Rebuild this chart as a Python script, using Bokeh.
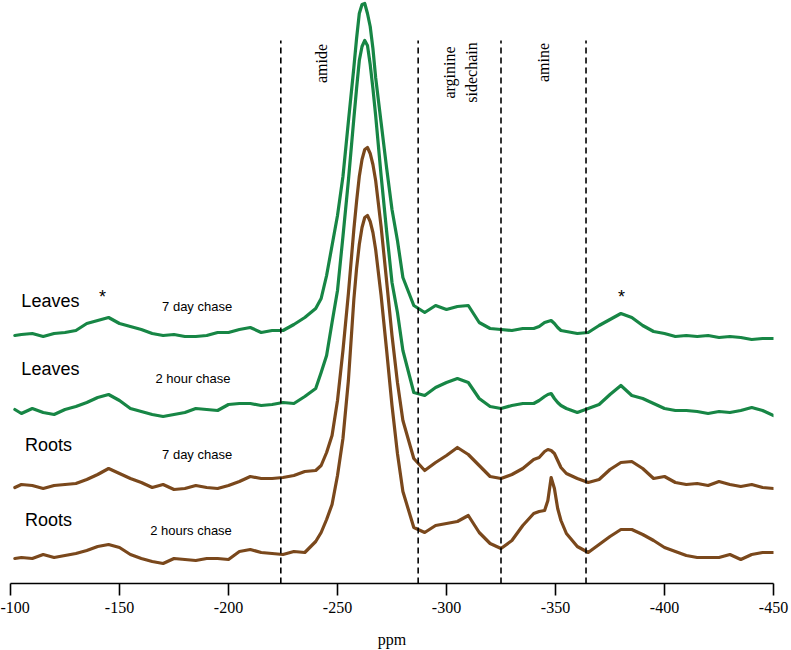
import math
from bokeh.plotting import figure
from bokeh.models import Range1d, FixedTicker
from bokeh.core.properties import value
from bokeh.embed import file_html
from bokeh.resources import INLINE

# ---------------- data ----------------
ppm = [-102, -105, -110, -115, -120, -125, -130, -135, -140, -145,
       -150, -155, -160, -165, -170, -175, -180, -185, -190, -195,
       -200, -205, -210, -215, -220, -225, -230, -235, -240,
       -242.5, -245, -247.5, -250, -252.5, -255, -257.5, -258.75, -260, -261.25,
       -262.5, -263.75, -265, -266.25, -267.5, -270, -272.5, -275, -277.5, -280,
       -285, -290, -295, -300, -305, -310, -315, -320, -325, -330, -335, -340,
       -342.5, -345, -346.5, -348, -349.5, -351, -352.5,
       -355, -360, -365, -370, -375, -380, -385, -390, -395, -400,
       -405, -410, -415, -420, -425, -430, -435, -440, -445, -450]

leaves_7day = [0, 1, 2, -1, 2, 3, 5, 12, 15, 18,
               12, 9, 6, 2, 0, 1, -1, -1, 0, 3,
               3, 6, 8, 3, 5, 5, 11, 18, 27,
               37, 60, 90, 120, 159, 214, 268, 297, 322, 331,
               332, 322, 309, 287, 258, 213, 168, 126, 95, 58,
               30, 23, 30, 26, 29, 30, 13, 7, 6, 5, 7, 7,
               9, 13, 14, 15, 12, 8, 5,
               4, 2, 3, 10, 16, 22, 18, 10, 4, 2, -1, 0, -1, 0, -2, -1, -2, -4, -3, -3]

leaves_2hour = [1, -3, 2, -2, -4, 1, 4, 8, 13, 16,
                10, 2, -1, -4, -6, -4, -2, 2, 1, 0,
                6, 7, 7, 5, 6, 8, 7, 14, 22,
                38, 55, 88, 120, 174, 230, 292, 322, 350, 364,
                370, 365, 346, 322, 295, 235, 180, 128, 98, 60,
                18, 15, 23, 28, 32, 28, 12, 4, 2, 5, 7, 7,
                10, 14, 16, 17, 12, 8, 5,
                2, -2, 2, 6, 16, 25, 15, 12, 7, 2, 0, 0, -1, -3, -1, -2, 0, 3, 0, -5]

roots_7day = [-2, 1, 0, -3, 0, 1, 2, 6, 11, 17,
              12, 7, 3, -2, 1, -4, -3, 0, -2, -3,
              0, 4, 9, 7, 7, 8, 10, 14, 15,
              20, 33, 50, 85, 135, 192, 256, 284, 309, 326,
              336, 338, 332, 321, 305, 259, 205, 150, 103, 65,
              27, 15, 23, 30, 38, 31, 20, 9, 7, 11, 17, 26,
              28, 34, 36, 35, 32, 25, 18,
              12, 7, 3, 6, 16, 23, 24, 17, 7, 9, 3, 1, 2, 0, 4, 1, -1, 1, -2, -3]

roots_2hours = [-2, -1, -2, 2, -1, 1, 3, 6, 10, 12,
                9, 2, -2, -5, -7, -2, -3, -4, -2, -2,
                -3, 5, 7, 4, 3, 2, 5, 4, 15,
                24, 37, 52, 81, 118, 176, 257, 288, 312, 329,
                339, 341, 335, 324, 307, 261, 207, 151, 103, 65,
                29, 24, 31, 33, 35, 41, 24, 13, 8, 16, 31, 43,
                45, 46, 56, 79, 68, 48, 36,
                23, 10, 4, 12, 20, 27, 27, 22, 16, 9, 5, 1, -1, -1, -1, 2, -3, 2, 4, 4]

series = [leaves_7day, leaves_2hour, roots_7day, roots_2hours]
tissue_labels = ["Leaves", "Leaves", "Roots", "Roots"]
chase_labels = ["7 day chase", "2 hour chase", "7 day chase", "2 hours chase"]
stack_offsets = [248, 173, 98, 27]
series_colors = ["#178645", "#178645", "#7a481c", "#7a481c"]

region_bounds = [-224, -287, -325, -364]
region_labels = ["amide", "arginine\nsidechain", "amine"]

x_ticks = [-100, -150, -200, -250, -300, -350, -400, -450]
x_tick_labels = ["-100", "-150", "-200", "-250", "-300", "-350", "-400", "-450"]

for s in series:
    assert len(s) == len(ppm)

# ---------------- figure ----------------
p = figure(frame_width=763, frame_height=583,
           x_range=Range1d(-100, -450), y_range=Range1d(0, 583),
           output_backend="svg", toolbar_location=None, y_axis_location=None,
           min_border_left=10, min_border_right=16, min_border_top=0, min_border_bottom=0)
p.outline_line_color = None
p.xgrid.visible = False
p.ygrid.visible = False
p.background_fill_color = "white"
p.border_fill_color = "white"

for vals, off, col in zip(series, stack_offsets, series_colors):
    p.line(ppm, [off + v for v in vals], line_color=col, line_width=3.2,
           line_join="round", line_cap="round")

p.segment(x0=region_bounds, y0=[0] * len(region_bounds),
          x1=region_bounds, y1=[543] * len(region_bounds),
          line_color="black", line_width=1.6, line_dash="6 4")

# region labels (rotated)
p.text(x=[-242.7, -306.4, -344.5], y=[520, 511, 521], text=region_labels,
       angle=math.pi / 2, text_font=value("Liberation Serif"), text_font_size="16px",
       text_align="center", text_baseline="middle", text_color="black",
       text_line_height=1.25)

# tissue labels
p.text(x=[-118.3, -118.3, -117.4, -117.4], y=[283, 215, 139, 64], text=tissue_labels,
       text_font=value("Liberation Sans"), text_font_size="18px",
       text_align="center", text_baseline="middle", text_color="black")

# chase labels
p.text(x=[-185.6, -183.7, -185.6, -182.8], y=[277, 205, 129, 53], text=chase_labels,
       text_font=value("Liberation Sans"), text_font_size="13px",
       text_align="center", text_baseline="middle", text_color="black")

# asterisks
p.text(x=[-142.2, -380.3], y=[287, 287], text=["*", "*"],
       text_font=value("Liberation Sans"), text_font_size="18px",
       text_align="center", text_baseline="middle", text_color="black")

ax = p.xaxis[0]
ax.ticker = FixedTicker(ticks=x_ticks)
ax.major_label_overrides = dict(zip(x_ticks, x_tick_labels))
ax.axis_label = "ppm"
ax.axis_label_text_font = "Liberation Serif"
ax.axis_label_text_font_style = "normal"
ax.axis_label_text_font_size = "16px"
ax.axis_label_text_color = "black"
ax.major_label_text_font = "Liberation Serif"
ax.major_label_text_font_size = "16px"
ax.major_label_text_color = "black"
ax.major_tick_out = 12
ax.major_tick_in = 0
ax.minor_tick_out = 0
ax.minor_tick_in = 0
ax.axis_line_width = 1.6
ax.major_tick_line_width = 1.6
ax.axis_line_color = "black"
ax.major_tick_line_color = "black"
ax.major_label_standoff = 6
ax.axis_label_standoff = 15

html = file_html(p, INLINE, title="spectra")
html = html.replace("</head>", "<style>html,body{overflow:hidden;}</style></head>", 1)
open("out.html", "w").write(html)
